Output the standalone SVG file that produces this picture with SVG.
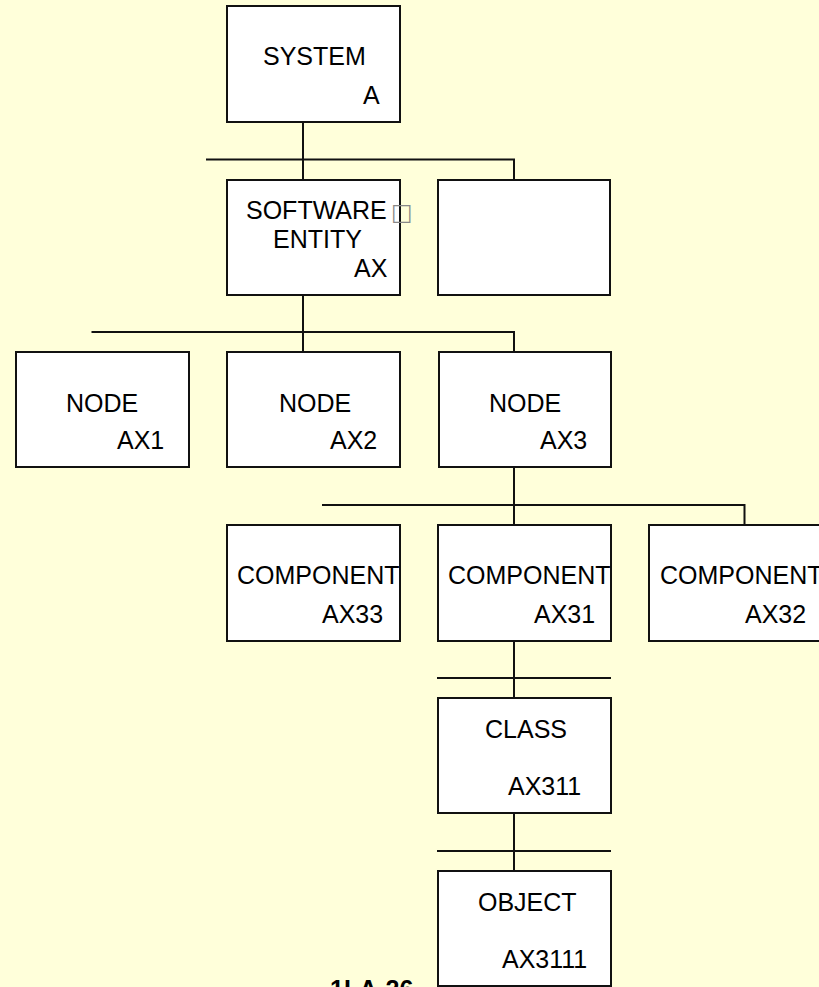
<svg xmlns="http://www.w3.org/2000/svg" width="819" height="987" viewBox="0 0 819 987">
<style>
.box{fill:#ffffff;stroke:#111111;stroke-width:2}
.ln{fill:none;stroke:#111111;stroke-width:2}
text{font-family:"Liberation Sans",Arial,sans-serif;font-size:25px;fill:#000000}
.tofu{font-family:"DejaVu Sans",sans-serif;font-size:23px;fill:#888888}
.ttl{font-weight:bold}
</style>
<rect x="0" y="0" width="819" height="987" fill="#ffffda"/>
<g id="connectors">
<path class="ln" d="M303 122V180M206 159.5H514V180"/>
<path class="ln" d="M303 295V352M91.5 332H514V352"/>
<path class="ln" d="M514 467V525M322 505H744.5V525"/>
<path class="ln" d="M514 641V698M437 678H611"/>
<path class="ln" d="M514 813V871M437 851H611"/>
</g>
<g id="system">
<rect class="box" x="227" y="6" width="173" height="116"/>
<text x="263" y="65">SYSTEM</text>
<text x="363" y="104">A</text>
</g>
<g id="software-entity">
<rect class="box" x="227" y="180" width="173" height="115"/>
<text x="246" y="219">SOFTWARE</text>
<text class="tofu" x="391" y="220">□</text>
<text x="273" y="248">ENTITY</text>
<text x="354" y="277">AX</text>
</g>
<g id="blank">
<rect class="box" x="438" y="180" width="172" height="115"/>
</g>
<g id="node-ax1">
<rect class="box" x="16" y="352" width="173" height="115"/>
<text x="66" y="412">NODE</text>
<text x="117" y="449">AX1</text>
</g>
<g id="node-ax2">
<rect class="box" x="227" y="352" width="173" height="115"/>
<text x="279" y="412">NODE</text>
<text x="330" y="449">AX2</text>
</g>
<g id="node-ax3">
<rect class="box" x="439" y="352" width="172" height="115"/>
<text x="489" y="412">NODE</text>
<text x="540" y="449">AX3</text>
</g>
<g id="component-ax33">
<rect class="box" x="227" y="525" width="173" height="116"/>
<text x="237" y="584">COMPONENT</text>
<text x="322" y="623">AX33</text>
</g>
<g id="component-ax31">
<rect class="box" x="438" y="525" width="173" height="116"/>
<text x="448" y="584">COMPONENT</text>
<text x="534" y="623">AX31</text>
</g>
<g id="component-ax32">
<rect class="box" x="649" y="525" width="174" height="116"/>
<text x="660" y="584">COMPONENT</text>
<text x="745" y="623">AX32</text>
</g>
<g id="class-ax311">
<rect class="box" x="438" y="698" width="173" height="115"/>
<text x="485" y="738">CLASS</text>
<text x="508" y="795">AX311</text>
</g>
<g id="object-ax3111">
<rect class="box" x="438" y="871" width="173" height="115"/>
<text x="478" y="911">OBJECT</text>
<text x="502" y="968">AX3111</text>
</g>
<text class="ttl" x="330" y="998">1LA-26</text>
</svg>
